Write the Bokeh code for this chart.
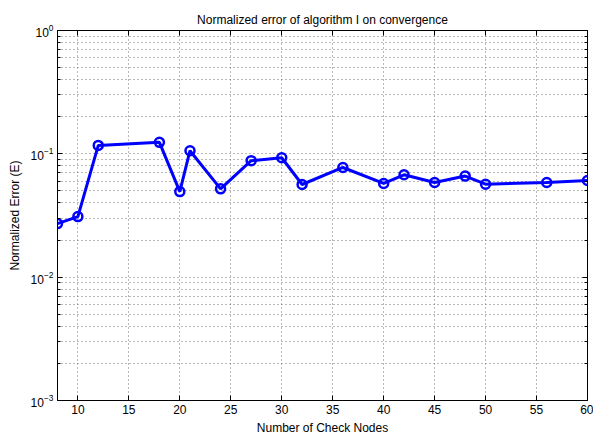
from bokeh.plotting import figure
from bokeh.models import (FixedTicker, LinearAxis, LogAxis, Range1d, LogTickFormatter)
from bokeh.embed import file_html
from bokeh.resources import INLINE

# Normalized error per number of check nodes
check_nodes = [8, 10, 12, 18, 20, 21, 24, 27, 30, 32, 36, 40, 42, 45, 48, 50, 56, 60]
norm_error = [0.0272, 0.031, 0.117, 0.124, 0.0494, 0.106, 0.052, 0.088, 0.093,
              0.0564, 0.0775, 0.0575, 0.0676, 0.0585, 0.066, 0.0567, 0.0586, 0.0608]

x_ticks = [10, 15, 20, 25, 30, 35, 40, 45, 50, 55, 60]
y_ticks = [1e-3, 1e-2, 1e-1, 1e0]
y_minor = [m * d for d in y_ticks[:-1] for m in range(2, 10)]

FONT = "Liberation Sans"
BLUE = "#0000ff"
GRID = "#707070"

p = figure(width=593, height=439, output_backend="svg", toolbar_location=None,
           x_range=Range1d(8, 60), y_range=Range1d(1e-3, 1e0), y_axis_type="log",
           min_border_left=57, min_border_right=6, min_border_top=30, min_border_bottom=39,
           background_fill_color="white", border_fill_color="white",
           outline_line_color="black", outline_line_width=1)

p.title.text = "Normalized error of algorithm I on convergence"
p.title.align = "center"
p.title.text_font = FONT
p.title.text_font_size = "12px"
p.title.text_font_style = "normal"
p.title.text_color = "black"
p.title.offset = 0
p.title.standoff = 8

xt = FixedTicker(ticks=x_ticks)
yt = FixedTicker(ticks=y_ticks, minor_ticks=y_minor)

def style_axis(ax, show_labels):
    ax.major_tick_in = 5
    ax.major_tick_out = 0
    ax.minor_tick_in = 3
    ax.minor_tick_out = 0
    ax.axis_line_color = "black"
    ax.major_tick_line_color = "black"
    ax.minor_tick_line_color = "black"
    ax.major_label_text_font = FONT
    ax.major_label_text_font_size = "12px"
    ax.major_label_text_color = "black"
    ax.axis_label_text_font = FONT
    ax.axis_label_text_font_size = "12px"
    ax.axis_label_text_font_style = "normal"
    ax.axis_label_text_color = "black"
    if not show_labels:
        ax.major_label_text_font_size = "0px"
        ax.major_label_text_color = None
        ax.major_label_standoff = 0

xa = p.xaxis[0]
xa.ticker = xt
style_axis(xa, True)
xa.minor_tick_line_color = None
xa.axis_label = "Number of Check Nodes"
xa.axis_label_standoff = 4
xa.major_label_standoff = 4

ya = p.yaxis[0]
ya.ticker = yt
ya.formatter = LogTickFormatter()
style_axis(ya, True)
ya.axis_label = "Normalized Error (E)"
ya.axis_label_standoff = 6
ya.major_label_standoff = 4

# box axes on the top and right, ticks only
top = LinearAxis(ticker=xt)
style_axis(top, False)
top.minor_tick_line_color = None
p.add_layout(top, "above")
right = LogAxis(ticker=yt)
style_axis(right, False)
p.add_layout(right, "right")

for g in (p.xgrid[0], p.ygrid[0]):
    g.grid_line_color = GRID
    g.grid_line_dash = "1 3"
    g.grid_line_width = 1
p.xgrid[0].ticker = xt
p.ygrid[0].ticker = yt
p.ygrid[0].minor_grid_line_color = GRID
p.ygrid[0].minor_grid_line_dash = "1 3"

p.line(check_nodes, norm_error, line_color=BLUE, line_width=3)
p.scatter(check_nodes, norm_error, marker="circle", size=9, fill_color=None,
          line_color=BLUE, line_width=2.5)

open("out.html", "w").write(file_html(p, INLINE))
